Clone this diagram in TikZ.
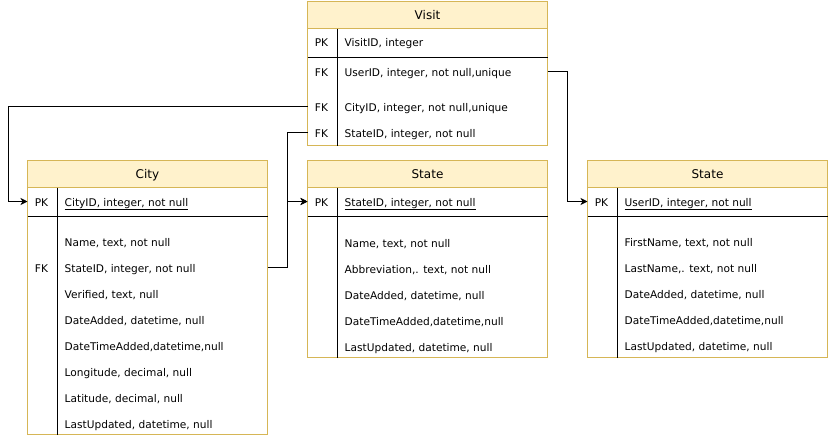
\documentclass[tikz,border=0pt]{standalone}
\usepackage{fontspec}
\setmainfont{DejaVu Sans}
\usetikzlibrary{arrows.meta}
\definecolor{hdrfill}{HTML}{FFF2CC}
\definecolor{hdrdraw}{HTML}{D6B656}
\tikzset{
  tbody/.style={draw=hdrdraw, line width=1pt, fill=white, minimum width=240pt, inner sep=0pt, outer sep=0pt, anchor=north west},
  thead/.style={draw=hdrdraw, line width=1pt, fill=hdrfill, minimum width=240pt, minimum height=27pt, inner sep=0pt, outer sep=0pt, anchor=north west, font=\fontsize{12pt}{14pt}\selectfont, text height=9.5pt, text depth=0pt},
  rowtxt/.style={anchor=west, inner sep=0pt, text height=9.5pt, text depth=0.5pt, font=\fontsize{10.6pt}{12pt}\selectfont},
  keytxt/.style={anchor=center, inner sep=0pt, text height=9.5pt, text depth=0.5pt, font=\fontsize{10.6pt}{12pt}\selectfont},
  divline/.style={black, line width=1pt},
  conn/.style={black, line width=1pt, -{Stealth[length=7pt,width=7pt,inset=2pt]}}
}
\newcommand\erdtab[5]{%
  \node[tbody, minimum height=#4pt] (#1) at (#2,#3) {};
  \node[thead] (#1-head) at (#2,#3) {#5};
  \draw[divline] ([yshift=-56pt]#1.north west) -- ([yshift=-56pt]#1.north east);
  \draw[divline] ([xshift=30pt,yshift=-27pt]#1.north west) -- ([xshift=30pt]#1.south west);
}
\begin{document}
\begin{tikzpicture}[x=1pt,y=-1pt]
\useasboundingbox (-0.5,-0.5) rectangle (827.5,436.5);
\coordinate (railL) at (8,0);
\coordinate (railM) at (287,0);
\coordinate (railR) at (567,0);

% Visit
\erdtab{visit}{307}{1}{144}{Visit}
\node[keytxt] at (321,41) {PK};
\node[rowtxt] (vid) at (344,41) {VisitID, integer};
\node[keytxt] at (321,71) {FK};
\node[rowtxt] (vuser) at (344,71) {UserID, integer, not null,unique};
\node[keytxt] at (321,106) {FK};
\node[rowtxt] (vcity) at (344,106) {CityID, integer, not null,unique};
\node[keytxt] at (321,132) {FK};
\node[rowtxt] (vstate) at (344,132) {StateID, integer, not null};

% City
\erdtab{city}{27}{160}{274}{City}
\node[keytxt] at (41,201) {PK};
\node[rowtxt] (cpk) at (64,201) {\underline{CityID, integer, not null}};
\node[rowtxt] at (64,241) {Name, text, not null};
\node[keytxt] at (41,267) {FK};
\node[rowtxt] (cstate) at (64,267) {StateID, integer, not null};
\node[rowtxt] at (64,293) {Verified, text, null};
\node[rowtxt] at (64,319) {DateAdded, datetime, null};
\node[rowtxt] at (64,345) {DateTimeAdded,datetime,null};
\node[rowtxt] at (64,371) {Longitude, decimal, null};
\node[rowtxt] at (64,397) {Latitude, decimal, null};
\node[rowtxt] at (64,423) {LastUpdated, datetime, null};

% State (middle)
\erdtab{state}{307}{160}{197}{State}
\node[keytxt] at (321,201) {PK};
\node[rowtxt] (spk) at (344,201) {\underline{StateID, integer, not null}};
\node[rowtxt] at (344,242) {Name, text, not null};
\node[rowtxt] at (344,268) {Abbreviation,. text, not null};
\node[rowtxt] at (344,294) {DateAdded, datetime, null};
\node[rowtxt] at (344,320) {DateTimeAdded,datetime,null};
\node[rowtxt] at (344,346) {LastUpdated, datetime, null};

% State (right, user)
\erdtab{user}{587}{160}{197}{State}
\node[keytxt] at (601,201) {PK};
\node[rowtxt] (upk) at (624,201) {\underline{UserID, integer, not null}};
\node[rowtxt] at (624,241) {FirstName, text, not null};
\node[rowtxt] at (624,267) {LastName,. text, not null};
\node[rowtxt] at (624,293) {DateAdded, datetime, null};
\node[rowtxt] at (624,319) {DateTimeAdded,datetime,null};
\node[rowtxt] at (624,345) {LastUpdated, datetime, null};

% connectors
\draw[conn] (vcity -| visit.west) -- (vcity -| railL) |- (cpk -| city.west);
\draw[conn] (vuser -| visit.east) -- (vuser -| railR) |- (upk -| user.west);
\draw[conn] (vstate -| visit.west) -- (vstate -| railM) |- (spk -| state.west);
\draw[conn] (cstate -| city.east) -- (cstate -| railM) |- (spk -| state.west);
\end{tikzpicture}
\end{document}
